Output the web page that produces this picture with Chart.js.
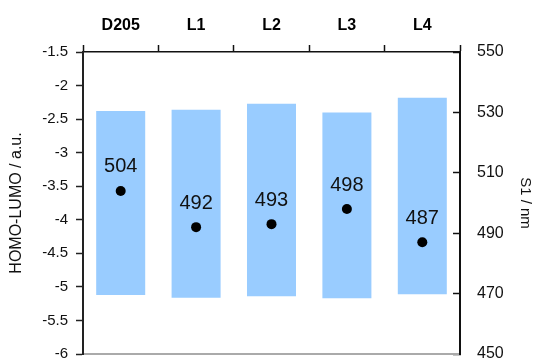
<!DOCTYPE html>
<html>
<head>
<meta charset="utf-8">
<script src="https://cdn.jsdelivr.net/npm/chart.js@4"></script>
<style>
  html, body { margin: 0; padding: 0; background: #fff; overflow: hidden; }
  #wrap { position: relative; width: 536px; height: 362px; }
</style>
</head>
<body>
<div id="wrap"><canvas id="chart"></canvas></div>
<script>
const categories = ["D205", "L1", "L2", "L3", "L4"];
const lumo = [-2.38, -2.36, -2.27, -2.40, -2.18];
const homo = [-5.12, -5.16, -5.14, -5.17, -5.11];
const s1 = [504, 492, 493, 498, 487];
const energyTicks = [-6, -5.5, -5, -4.5, -4, -3.5, -3, -2.5, -2, -1.5];
const s1Ticks = [450, 470, 490, 510, 530, 550];

const FONT = "'Liberation Sans', Arial, sans-serif";

// writes the S1 value above each point
const pointLabels = {
  id: "pointLabels",
  afterDatasetsDraw(chart) {
    const ctx = chart.ctx;
    const meta = chart.getDatasetMeta(1);
    ctx.save();
    ctx.font = "20px " + FONT;
    ctx.fillStyle = "#111";
    ctx.textAlign = "center";
    ctx.textBaseline = "middle";
    meta.data.forEach((pt, i) => {
      ctx.fillText(String(s1[i]), pt.x, pt.y - 24);
    });
    ctx.restore();
  }
};

// let the end labels hang past the plot edge instead of shrinking it
function tightY(width) {
  return s => {
    s.width = width;
    s.paddingTop = 0;
    s.paddingBottom = 0;
  };
}

const ctx = document.getElementById("chart").getContext("2d");
new Chart(ctx, {
  data: {
    labels: categories,
    datasets: [
      {
        type: "bar",
        label: "HOMO-LUMO",
        data: categories.map((c, i) => [homo[i], lumo[i]]),
        backgroundColor: "#99ccff",
        borderWidth: 0,
        barPercentage: 0.65,
        categoryPercentage: 1.0,
        xAxisID: "x",
        yAxisID: "y",
        order: 2
      },
      {
        type: "line",
        label: "S1",
        data: s1,
        showLine: false,
        pointRadius: 5,
        pointBackgroundColor: "#000",
        pointBorderWidth: 0,
        xAxisID: "x",
        yAxisID: "y2",
        order: 1
      }
    ]
  },
  options: {
    responsive: true,
    maintainAspectRatio: false,
    animation: false,
    layout: { padding: 0, autoPadding: false },
    plugins: {
      legend: { display: false },
      tooltip: { enabled: false }
    },
    scales: {
      x: {
        type: "category",
        position: "top",
        offset: true,
        grid: {
          offset: true,
          drawOnChartArea: false,
          tickLength: 7,
          tickColor: "#111",
          tickWidth: 1.5
        },
        border: { color: "#111", width: 1.5 },
        ticks: {
          color: "#000",
          padding: 10,
          font: { family: FONT, size: 16, weight: "bold" }
        },
        afterFit: s => { s.height = 52; }
      },
      xb: {
        type: "category",
        position: "bottom",
        grid: { display: false, drawTicks: false },
        border: { color: "#aaaaaa", width: 2 },
        ticks: { display: false },
        afterFit: s => { s.height = 8; }
      },
      y: {
        position: "left",
        min: -6,
        max: -1.5,
        afterBuildTicks: s => { s.ticks = energyTicks.map(v => ({ value: v })); },
        grid: {
          drawOnChartArea: false,
          tickLength: 7,
          tickColor: "#222",
          tickWidth: 1.5
        },
        border: { color: "#222", width: 2 },
        ticks: {
          color: "#111",
          padding: 8,
          font: { family: FONT, size: 15 },
          callback: v => String(v)
        },
        title: {
          display: true,
          text: "HOMO-LUMO / a.u.",
          color: "#111",
          padding: { top: 7, bottom: 0 },
          font: { family: FONT, size: 16 }
        },
        afterFit: tightY(83)
      },
      y2: {
        position: "right",
        min: 450,
        max: 550,
        afterBuildTicks: s => { s.ticks = s1Ticks.map(v => ({ value: v })); },
        grid: {
          drawOnChartArea: false,
          tickLength: -7,
          tickColor: "#111",
          tickWidth: 1.5
        },
        border: { color: "#111", width: 2 },
        ticks: {
          color: "#111",
          padding: 24,
          font: { family: FONT, size: 16 },
          callback: v => String(v)
        },
        title: {
          display: true,
          text: "S1 / nm",
          color: "#111",
          padding: { top: 2, bottom: 0 },
          font: { family: FONT, size: 15 }
        },
        afterFit: tightY(76)
      }
    }
  },
  plugins: [pointLabels]
});
</script>
</body>
</html>
